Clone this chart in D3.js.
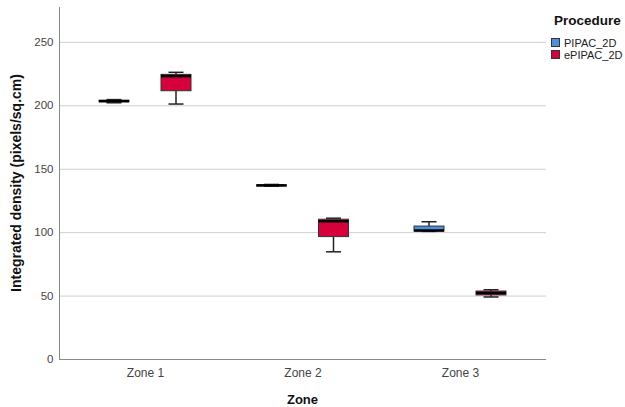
<!DOCTYPE html>
<html>
<head>
<meta charset="utf-8">
<script src="https://cdn.jsdelivr.net/npm/d3@7"></script>
<style>
  html, body { margin: 0; padding: 0; background: #fff; }
  svg { display: block; font-family: Arial, "Liberation Sans", sans-serif; }
</style>
</head>
<body>
<svg id="chart" width="625" height="407"></svg>
<script>
// Zones on the x axis and the two procedures compared in each
const zones = ["Zone 1", "Zone 2", "Zone 3"];
const procedures = ["PIPAC_2D", "ePIPAC_2D"];
const procColors = ["#4f8fe2", "#d6003a"];
const yTicks = [0, 50, 100, 150, 200, 250];

// Five-number summaries [min, q1, median, q3, max] per zone
const pipacStats = [
  [202.0, 202.8, 203.3, 204.0, 204.5],
  [136.2, 136.6, 136.9, 137.2, 137.6],
  [100.6, 100.9, 101.3, 104.8, 108.2]
];
const epipacStats = [
  [201.0, 211.5, 223.0, 224.4, 226.0],
  [84.5, 96.5, 108.6, 110.2, 111.0],
  [48.9, 50.5, 52.0, 53.6, 54.6]
];

const svg = d3.select("#chart");
const plotLeft = 59, plotRight = 546, plotTop = 7, plotBottom = 359;

const x = d3.scalePoint().domain(zones).range([plotLeft, plotRight]).padding(0.546);
const y = d3.scaleLinear().domain([0, 277.5]).range([plotBottom, plotTop]);
const offset = 31, boxW = 30, capW = 15;

// Horizontal gridlines
svg.append("g")
  .selectAll("line")
  .data(yTicks.filter(d => d > 0))
  .join("line")
  .attr("x1", plotLeft).attr("x2", plotRight)
  .attr("y1", d => y(d) + 0.5).attr("y2", d => y(d) + 0.5)
  .attr("stroke", "#cfcfcf").attr("stroke-width", 1);

// Axes
const yAxis = svg.append("g")
  .attr("transform", `translate(${plotLeft + 0.5},0)`)
  .call(d3.axisLeft(y).tickValues(yTicks).tickSize(0).tickPadding(6));
yAxis.select(".domain").attr("d", `M0,${plotTop}V${plotBottom + 0.5}`).attr("stroke", "#8a8a8a");
yAxis.selectAll("text").attr("font-size", 11.5).attr("fill", "#444")
  .attr("font-family", "Arial, 'Liberation Sans', sans-serif");

const xAxis = svg.append("g")
  .attr("transform", `translate(0,${plotBottom + 0.5})`)
  .call(d3.axisBottom(x).tickSize(0).tickPadding(9));
xAxis.select(".domain").attr("d", `M${plotLeft},0H${plotRight}`).attr("stroke", "#8a8a8a");
xAxis.selectAll("text").attr("font-size", 12).attr("fill", "#444")
  .attr("font-family", "Arial, 'Liberation Sans', sans-serif");

// Box plots
const groups = [pipacStats, epipacStats];
groups.forEach((stats, gi) => {
  const g = svg.append("g");
  const dx = gi === 0 ? -offset : offset;
  stats.forEach((s, i) => {
    const cx = x(zones[i]) + dx;
    const [mn, q1, md, q3, mx] = s;
    // whiskers
    g.append("line").attr("x1", cx).attr("x2", cx).attr("y1", y(mx)).attr("y2", y(q3))
      .attr("stroke", "#222").attr("stroke-width", 1.5);
    g.append("line").attr("x1", cx).attr("x2", cx).attr("y1", y(q1)).attr("y2", y(mn))
      .attr("stroke", "#222").attr("stroke-width", 1.5);
    g.append("line").attr("x1", cx - capW / 2).attr("x2", cx + capW / 2).attr("y1", y(mx)).attr("y2", y(mx))
      .attr("stroke", "#222").attr("stroke-width", 1.5);
    g.append("line").attr("x1", cx - capW / 2).attr("x2", cx + capW / 2).attr("y1", y(mn)).attr("y2", y(mn))
      .attr("stroke", "#222").attr("stroke-width", 1.5);
    // box
    g.append("rect")
      .attr("x", cx - boxW / 2).attr("width", boxW)
      .attr("y", y(q3)).attr("height", Math.max(1, y(q1) - y(q3)))
      .attr("fill", procColors[gi]).attr("stroke", "#333").attr("stroke-width", 1);
    // median
    g.append("line").attr("x1", cx - boxW / 2).attr("x2", cx + boxW / 2)
      .attr("y1", y(md)).attr("y2", y(md))
      .attr("stroke", "#000").attr("stroke-width", 2.5);
  });
});

// Axis titles
svg.append("text")
  .attr("transform", `translate(21,${(plotTop + plotBottom) / 2}) rotate(-90)`)
  .attr("text-anchor", "middle").attr("font-size", 14).attr("font-weight", "bold")
  .attr("fill", "#111").text("Integrated density (pixels/sq.cm)");

svg.append("text")
  .attr("x", x("Zone 2")).attr("y", 404)
  .attr("text-anchor", "middle").attr("font-size", 13).attr("font-weight", "bold")
  .attr("fill", "#111").text("Zone");

// Legend
const legend = svg.append("g");
legend.append("text").attr("x", 554).attr("y", 25)
  .attr("font-size", 13.5).attr("font-weight", "bold").attr("fill", "#111").text("Procedure");
procedures.forEach((p, i) => {
  const ly = 38 + i * 12;
  legend.append("rect").attr("x", 551.5).attr("y", ly + 0.5).attr("width", 8).attr("height", 8)
    .attr("fill", procColors[i]).attr("stroke", "#333").attr("stroke-width", 1);
  legend.append("text").attr("x", 564).attr("y", ly + 8.5)
    .attr("font-size", 11).attr("fill", "#222").text(p);
});
</script>
</body>
</html>
